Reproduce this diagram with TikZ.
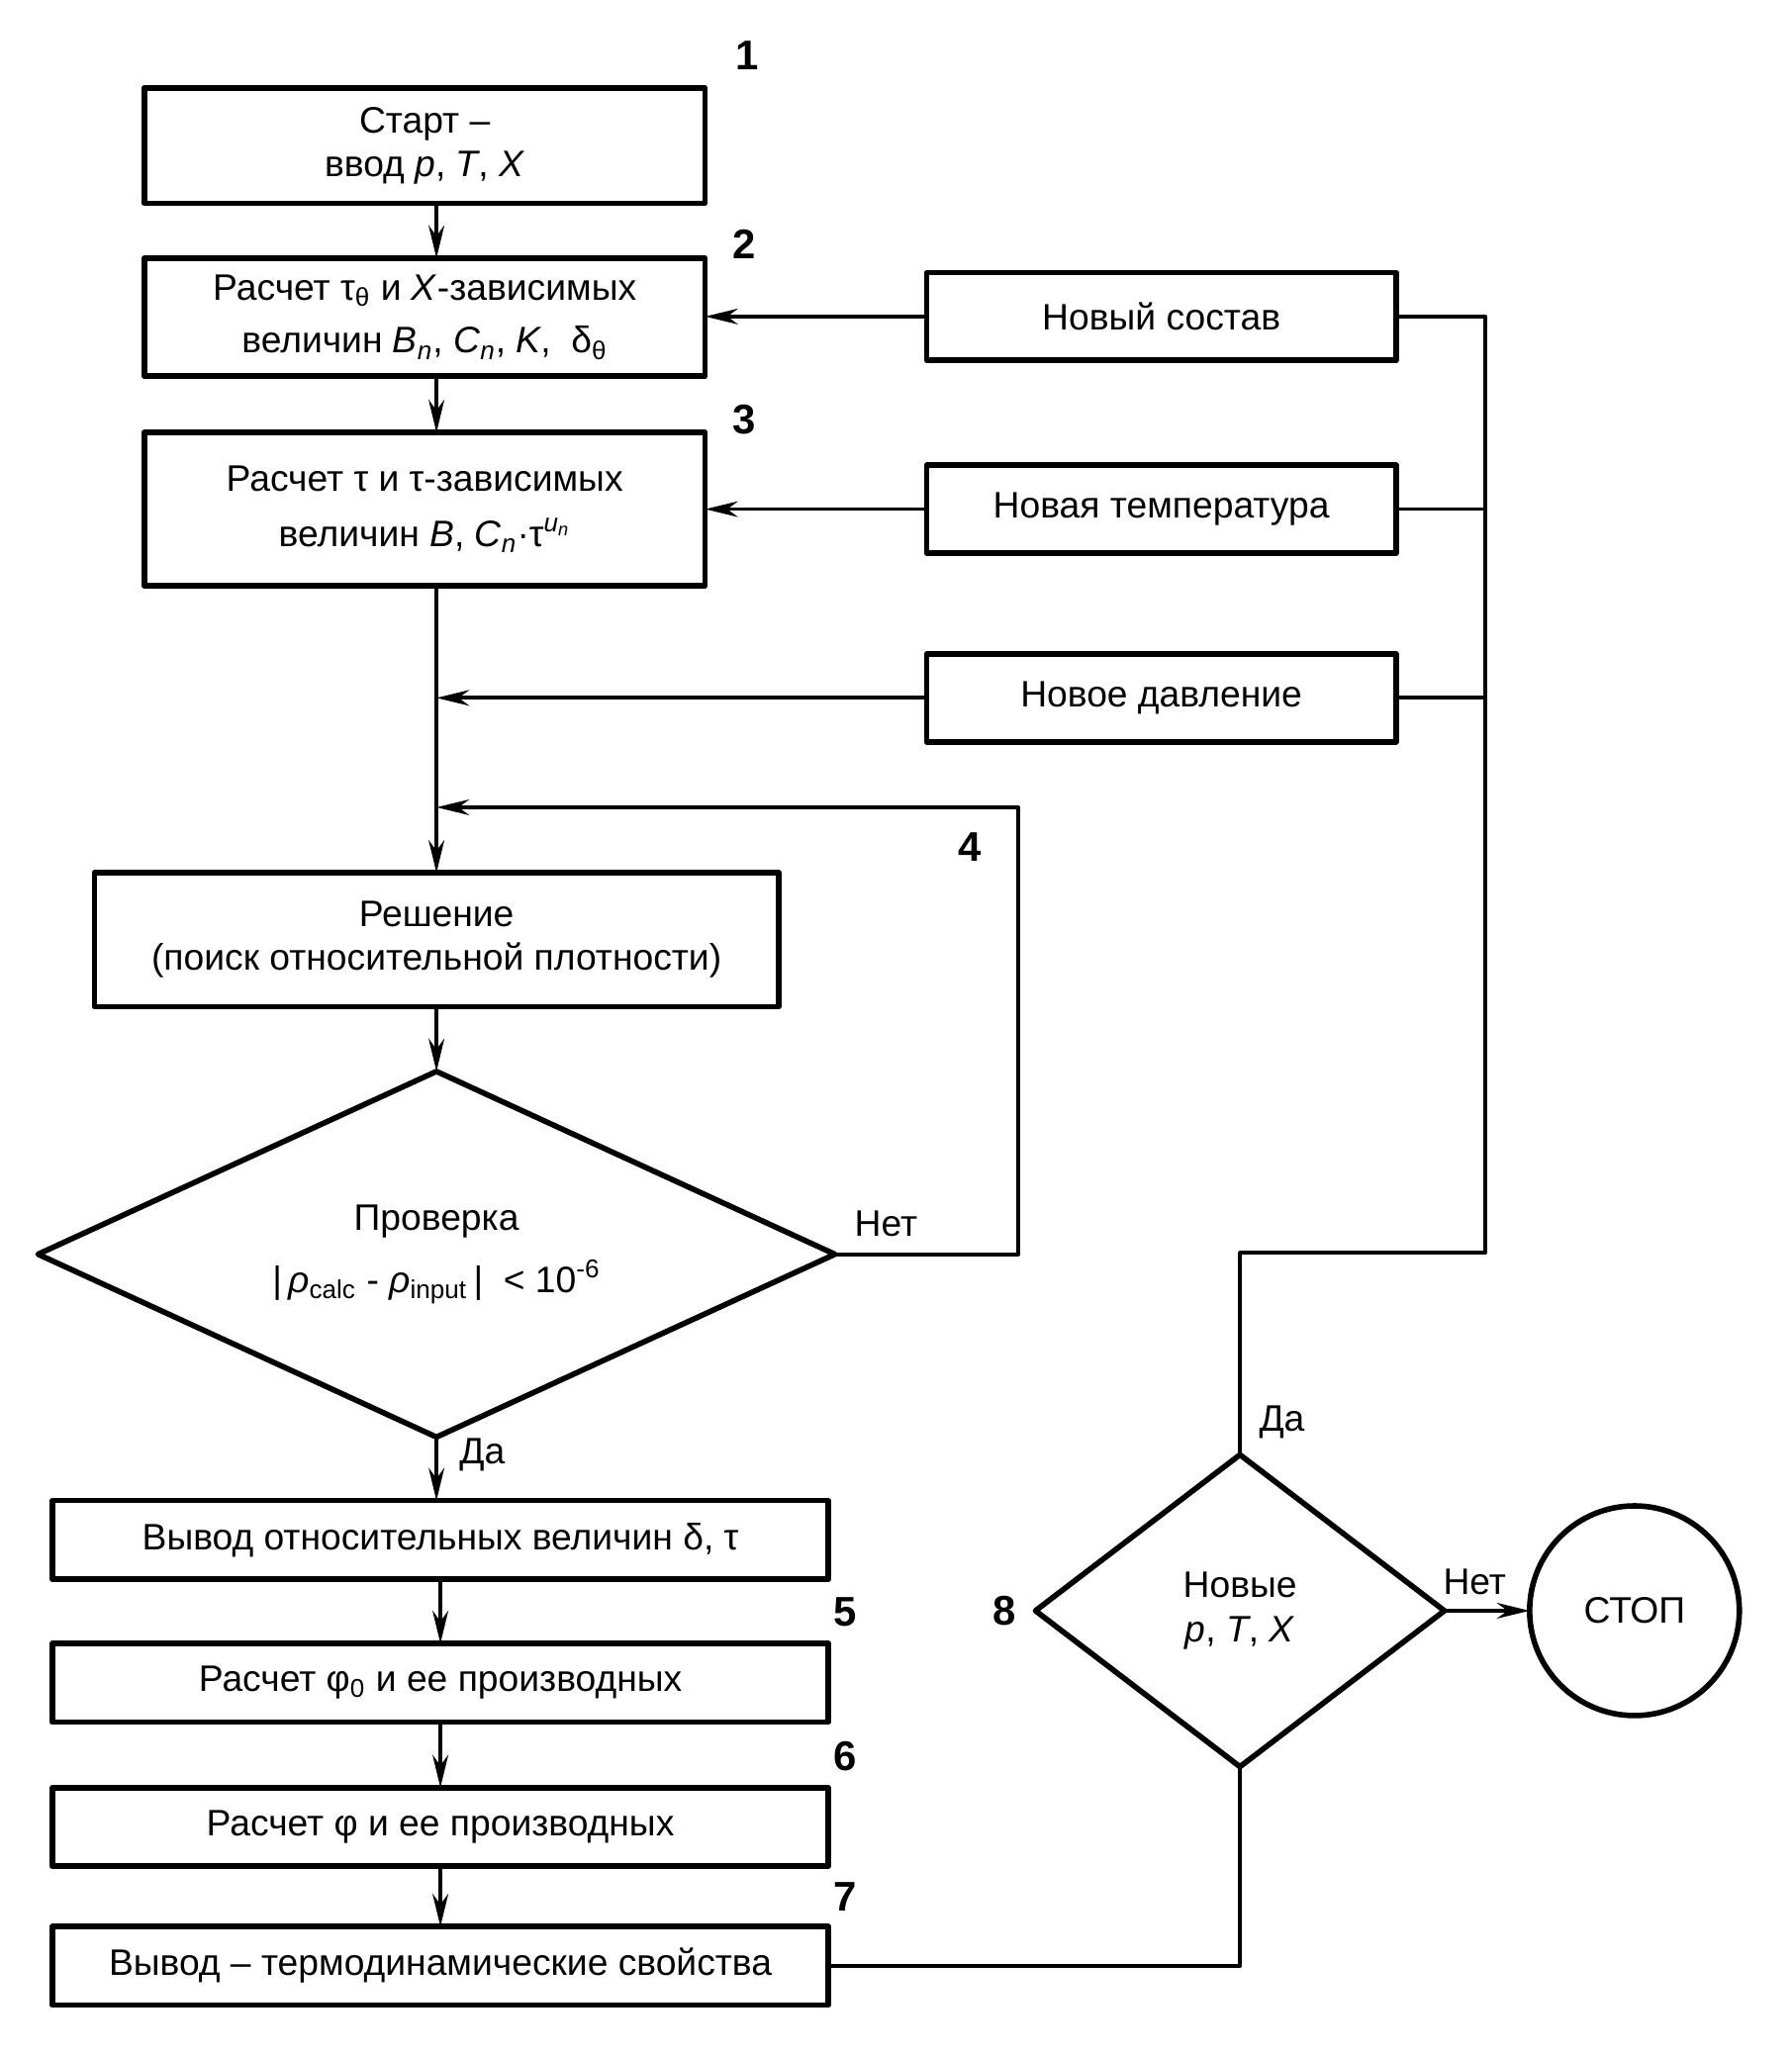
\documentclass[tikz,border=0pt]{standalone}
\usepackage{fontspec}
\setmainfont{Liberation Sans}
\usetikzlibrary{shapes.geometric,arrows.meta}

\tikzset{
  blk/.style={draw, line width=2.4pt, rectangle, align=center, inner sep=2pt, outer sep=0pt},
  dia/.style={draw, line width=2.4pt, diamond, align=center, inner sep=0pt, outer sep=0pt},
  num/.style={font=\bfseries\fontsize{18pt}{20pt}\selectfont},
}

\begin{document}
\begin{tikzpicture}[line cap=round, line join=round, font=\fontsize{16pt}{19pt}\selectfont, >={Stealth[length=5mm,width=2.4mm]}, line width=1.6pt]
  \useasboundingbox (0,0) rectangle (27.34,-31.36);
  % left column
  \node[blk, minimum width=8.56cm, minimum height=1.76cm] (start) at (6.48,-2.22) {Старт –\\ввод \textit{p}, \textit{T}, \textit{X}};
  \node[blk, minimum width=8.56cm, minimum height=1.80cm] (calcX) at (6.48,-4.84) {Расчет τ\textsubscript{θ} и \textit{X}-зависимых\\[4pt]величин \textit{B}\textsubscript{\textit{n}}, \textit{C}\textsubscript{\textit{n}}, \textit{K}, \ δ\textsubscript{θ}};
  \node[blk, minimum width=8.56cm, minimum height=2.34cm] (calcT) at (6.48,-7.77) {Расчет τ и τ-зависимых\\[5pt]величин \textit{B}, \textit{C}\textsubscript{\textit{n}}·τ\textsuperscript{\textit{u}\textsubscript{\textit{n}}}};
  \node[blk, minimum width=10.44cm, minimum height=2.04cm] (solve) at (6.66,-14.34) {Решение\\(поиск относительной плотности)};
  \node[dia, aspect=2.18, minimum width=12.16cm, minimum height=5.58cm] (check) at (6.66,-19.14) {Проверка\\[8pt]|\,\textit{ρ}\textsubscript{calc} - \textit{ρ}\textsubscript{input}\,| \ < 10\textsuperscript{-6}};
  \node[blk, minimum width=11.84cm, minimum height=1.2cm] (outRel) at (6.72,-23.5) {Вывод относительных величин δ, τ};
  \node[blk, minimum width=11.84cm, minimum height=1.2cm] (calcPhi0) at (6.72,-25.68) {Расчет φ\textsubscript{0} и ее производных};
  \node[blk, minimum width=11.84cm, minimum height=1.2cm] (calcPhi) at (6.72,-27.88) {Расчет φ и ее производных};
  \node[blk, minimum width=11.84cm, minimum height=1.2cm] (outProp) at (6.72,-30.0) {Вывод – термодинамические свойства};
  % right column
  \node[blk, minimum width=7.16cm, minimum height=1.34cm] (newX) at (17.72,-4.83) {Новый состав};
  \node[blk, minimum width=7.16cm, minimum height=1.34cm] (newT) at (17.72,-7.77) {Новая температура};
  \node[blk, minimum width=7.16cm, minimum height=1.34cm] (newP) at (17.72,-10.65) {Новое давление};
  \node[dia, minimum width=6.24cm, minimum height=4.76cm] (newPTX) at (18.92,-24.58) {Новые\\\textit{p}, \textit{T}, \textit{X}};
  \node[draw, line width=2.4pt, circle, minimum size=3.2cm, inner sep=0pt, outer sep=0pt] (stop) at (24.94,-24.58) {СТОП};
  % numbers
  \node[num] (n1) at (11.4,-0.84) {1};
  \node[num] (n2) at (11.36,-3.72) {2};
  \node[num] (n3) at (11.36,-6.4) {3};
  \node[num] (n4) at (14.8,-12.92) {4};
  \node[num] (n5) at (12.9,-24.6) {5};
  \node[num] (n6) at (12.9,-26.8) {6};
  \node[num] (n7) at (12.9,-28.94) {7};
  \node[num] (n8) at (15.32,-24.58) {8};
  % helper points
  \coordinate (loopTop) at (15.54,-12.32);
  \coordinate (busTurn) at (22.66,-19.12);
  % connectors
  \draw[->] (start.south -| solve.north) -- (calcX.north -| solve.north);
  \draw[->] (calcX.south -| solve.north) -- (calcT.north -| solve.north);
  \draw[->] (calcT.south -| solve.north) -- (solve.north);
  \draw[->] (newX.west) -- (newX.west -| calcX.east);
  \draw[->] (newT.west) -- (newT.west -| calcT.east);
  \draw[->] (newP.west) -- (newP.west -| solve.north);
  \draw[->] (check.east) -| (loopTop) -- (loopTop -| solve.north);
  \node (no1) at (13.52,-18.68) {Нет};
  \draw[->] (solve.south) -- (check.north);
  \draw[->] (check.south) -- (check.south |- outRel.north);
  \node (yes1) at (7.36,-22.2) {Да};
  \draw[->] (outRel.south) -- (calcPhi0.north);
  \draw[->] (calcPhi0.south) -- (calcPhi.north);
  \draw[->] (calcPhi.south) -- (outProp.north);
  \draw (outProp.east) -| (newPTX.south);
  \draw[->] (newPTX.east) -- (stop.west);
  \node (no2) at (22.5,-24.14) {Нет};
  \node (yes2) at (19.56,-21.7) {Да};
  \draw (newX.east) -| (busTurn) -| (newPTX.north);
  \draw (newT.east) -- (newT.east -| busTurn);
  \draw (newP.east) -- (newP.east -| busTurn);
\end{tikzpicture}
\end{document}
